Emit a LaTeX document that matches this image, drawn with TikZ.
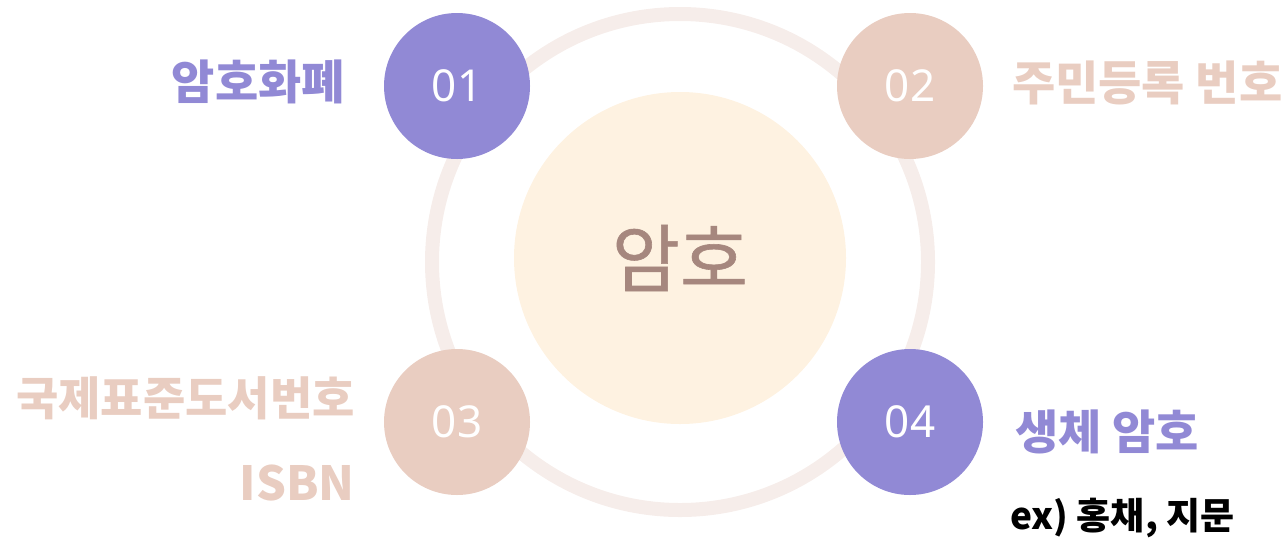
\documentclass[tikz,border=0pt]{standalone}
\usepackage{fontspec}
\setmainfont{Noto Sans CJK KR}
\newfontfamily\krfont{Noto Sans CJK KR}
\newfontfamily\krmid[FakeBold=0.8]{Noto Sans CJK KR}
\newfontfamily\numfont{Noto Sans}
\definecolor{purp}{HTML}{9189D5}
\definecolor{peach}{HTML}{E9CDC1}
\definecolor{ringc}{HTML}{F6EDEA}
\definecolor{cream}{HTML}{FEF2E1}
\definecolor{centxt}{HTML}{A6877E}
\tikzset{
  numdot/.style={circle, minimum size=146pt, inner sep=0pt, text=white, font=\numfont\fontsize{44}{50}\selectfont},
  lbl/.style={inner sep=0pt, font=\krfont\bfseries\fontsize{47}{54}\selectfont},
}
\begin{document}
\begin{tikzpicture}[x=1pt,y=-1pt]
\useasboundingbox (0,0) rectangle (1284,539);
\node[circle, draw=ringc, line width=14pt, minimum size=496pt, inner sep=0pt] (ring) at (680,262) {};
\node[circle, fill=cream, minimum size=332pt, inner sep=0pt, text=centxt, font=\krmid\fontsize{74}{84}\selectfont] (center) at (680,258) {암호};
\node[numdot, fill=purp] (n1) at (457,86) {01};
\node[numdot, fill=peach] (n2) at (910,86) {02};
\node[numdot, fill=peach] (n3) at (457,422) {03};
\node[numdot, fill=purp] (n4) at (910,422) {04};
\node[lbl, text=purp, anchor=east] (t1) at (345,82) {암호화폐};
\node[lbl, text=peach, anchor=west] (t2) at (1012,83) {주민등록 번호};
\node[lbl, text=peach, anchor=east, font=\krfont\bfseries\fontsize{46}{54}\selectfont] (t3) at (355,398) {국제표준도서번호};
\node[lbl, text=peach, anchor=east] (t3b) at (355,483) {ISBN};
\node[lbl, text=purp, anchor=west] (t4) at (1015,432) {생체 암호};
\node[inner sep=0pt, anchor=west, text=black, font=\krfont\bfseries\fontsize{37}{42}\selectfont] (t4b) at (1010,518) {ex) 홍채, 지문};
\end{tikzpicture}
\end{document}
